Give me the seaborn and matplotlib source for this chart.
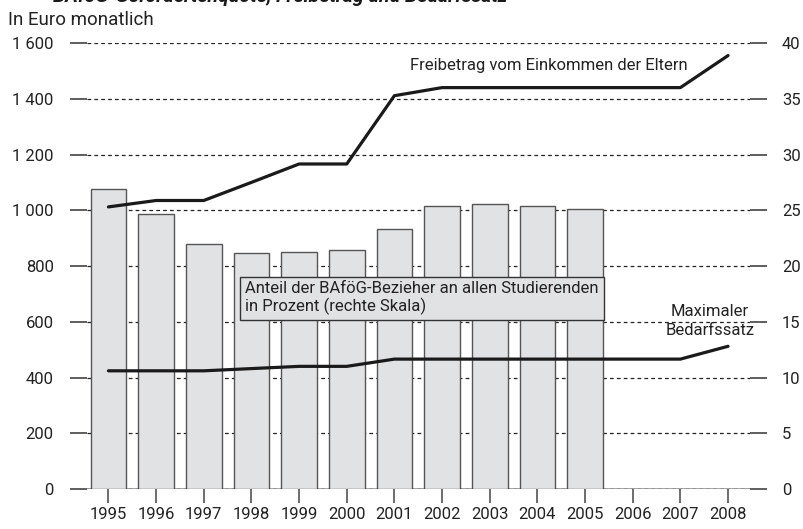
import matplotlib
matplotlib.use('Agg')
import matplotlib.pyplot as plt
import seaborn as sns
import pandas as pd

# Werte
years = list(range(1995, 2009))
bar_years = list(range(1995, 2006))
anteil = [26.9, 24.7, 22.0, 21.2, 21.3, 21.4, 23.3, 25.4, 25.6, 25.4, 25.1]
freibetrag = [1012, 1035, 1035, 1100, 1166, 1166, 1411, 1440, 1440, 1440, 1440, 1440, 1440, 1555]
bedarf = [424, 424, 424, 432, 440, 440, 466, 466, 466, 466, 466, 466, 466, 512]

left_ticks = [0, 200, 400, 600, 800, 1000, 1200, 1400, 1600]
left_labels = ['0', '200', '400', '600', '800', '1 000', '1 200', '1 400', '1 600']
right_ticks = [0, 5, 10, 15, 20, 25, 30, 35, 40]

bars = pd.DataFrame({'Jahr': bar_years, 'Anteil': anteil})
lines = pd.DataFrame({'Jahr': years, 'Freibetrag': freibetrag, 'Bedarf': bedarf})

sns.set_theme(style='white')
plt.rcParams['font.family'] = ['Roboto', 'DejaVu Sans']

fig = plt.figure(figsize=(8.04, 5.29), dpi=100)
ax = fig.add_axes([0.1082, 0.0756, 0.8246, 0.8431])
ax2 = ax.twinx()
ax.set_zorder(ax2.get_zorder() + 1)
ax.patch.set_visible(False)

# Balken (rechte Skala)
sns.barplot(data=bars, x='Jahr', y='Anteil', native_scale=True, ax=ax2,
            color='#e1e2e4', saturation=1, edgecolor='#555555', linewidth=1,
            width=0.75)
ax2.set_ylim(0, 40)
ax2.set_axisbelow(True)
ax2.yaxis.grid(True, color='#222222', linestyle=(0, (3, 2.5)), linewidth=0.9)
ax2.axhline(0, color='#8a8a8a', lw=1.8, zorder=0.3)

# Linien (linke Skala)
sns.lineplot(data=lines, x='Jahr', y='Freibetrag', ax=ax, color='#1a1a1a', lw=2.3)
sns.lineplot(data=lines, x='Jahr', y='Bedarf', ax=ax, color='#1a1a1a', lw=2.3)
ax.set_ylim(0, 1600)
ax.set_xlim(1994.55, 2008.46)

ax.set_xticks(years)
ax.set_xticklabels([str(y) for y in years])
ax.set_yticks(left_ticks)
ax.set_yticklabels(left_labels)
ax2.set_yticks(right_ticks)
ax2.set_yticklabels([str(t) for t in right_ticks])

for a in (ax, ax2):
    a.set_xlabel('')
    a.set_ylabel('')
    for s in a.spines.values():
        s.set_visible(False)

ax.tick_params(axis='y', left=True, direction='out', length=12, width=1.1,
               color='#333333', pad=12, labelsize=12, labelcolor='#222222')
ax2.tick_params(axis='y', right=True, direction='out', length=12, width=1.1,
                color='#333333', pad=11, labelsize=12, labelcolor='#222222')
ax.tick_params(axis='x', bottom=True, direction='out', length=10, width=1.1,
               color='#444444', pad=3, labelsize=12, labelcolor='#222222')

# Beschriftungen
ax.text(2001.33, 1521, 'Freibetrag vom Einkommen der Eltern', fontsize=12,
        ha='left', va='center', color='#222222')
ax.text(1997.87, 685, 'Anteil der BAföG-Bezieher an allen Studierenden\nin Prozent (rechte Skala)',
        fontsize=12, ha='left', va='center', color='#222222', linespacing=1.1,
        bbox=dict(boxstyle='square,pad=0.3', facecolor='#e1e2e4', edgecolor='#333333', lw=1))
ax.text(2007.62, 603, 'Maximaler\nBedarfssatz', fontsize=12, ha='center', va='center',
        multialignment='center', color='#222222', linespacing=1.3)

fig.text(8 / 804, 1 - 20 / 529, 'In Euro monatlich', fontsize=13.5, ha='left',
         va='center', color='#222222')
fig.text(53 / 804, 1 - 1.5 / 529, 'BAföG-Gefördertenquote, Freibetrag und Bedarfssatz',
         fontsize=14, fontweight='bold', fontstyle='italic', ha='left',
         va='baseline', color='#1a1a1a')

fig.savefig('out.png', dpi=100)
